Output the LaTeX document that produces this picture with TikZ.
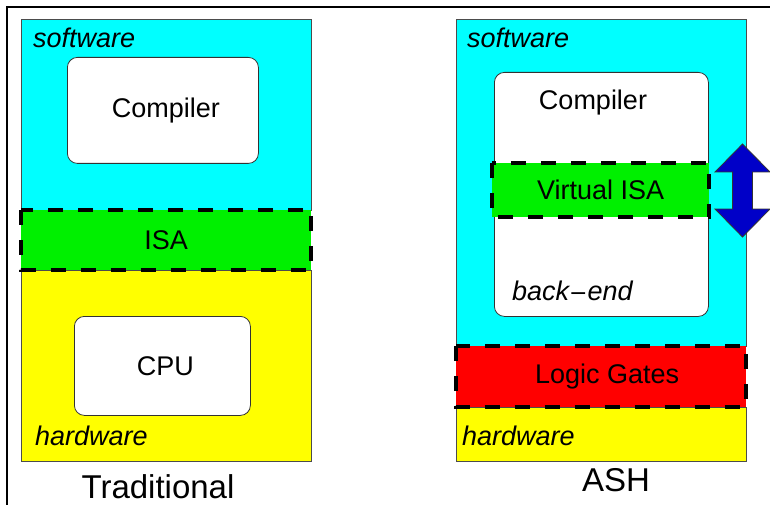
\documentclass[tikz,border=0pt]{standalone}
\usepackage{fontspec}
\setmainfont{Liberation Sans}
\definecolor{cy}{RGB}{0,255,255}
\definecolor{gr}{RGB}{0,240,0}
\definecolor{ye}{RGB}{255,255,0}
\definecolor{rd}{RGB}{255,0,0}
\definecolor{bl}{RGB}{0,0,200}
\begin{document}
\begin{tikzpicture}[x=1pt,y=-1pt,
  layer/.style={draw=black!70,line width=0.8pt,anchor=north west,inner sep=0pt,minimum width=290pt},
  band/.style={anchor=north west,inner sep=0pt,font=\fontsize{27}{27}\selectfont},
  dashborder/.style={draw=black,line width=4pt,dash pattern=on 15pt off 15pt},
  whitebox/.style={draw=black!80,fill=white,line width=0.8pt,rounded corners=10pt,anchor=north west,inner sep=0pt},
  lbl/.style={font=\fontsize{27}{27}\selectfont},
  ilbl/.style={font=\fontsize{27}{27}\selectfont\itshape,anchor=base west,inner sep=0pt},
  title/.style={font=\fontsize{33}{33}\selectfont,anchor=base,inner sep=0pt}]
\useasboundingbox (0,0) rectangle (770,505);
% frame
\draw[line width=2pt] (7,505) -- (7,7) -- (772,7);
% ---------- Traditional ----------
\node[layer,fill=cy,minimum height=191pt] (lsw) at (21,19) {};
\node[layer,fill=ye,minimum height=191pt] (lhw) at (21,270) {};
\node[band,fill=gr,minimum width=290pt,minimum height=60pt] (isa) at (21,210) {};
\draw[dashborder] (isa.north west) rectangle (isa.south east);
\node[lbl] at (isa.center) {ISA};
\node[whitebox,minimum width=191pt,minimum height=106pt] (comp1) at (67,57) {};
\node[lbl] at ([xshift=3pt]comp1.center) {Compiler};
\node[whitebox,minimum width=176pt,minimum height=99pt] (cpu) at (74,316) {};
\node[lbl] at ([xshift=3pt]cpu.center) {CPU};
\node[ilbl] (sw1) at (33,48) {software};
\node[ilbl] (hw1) at (35,445) {hardware};
\node[title] (trad) at (158,498) {Traditional};
% ---------- ASH ----------
\node[layer,fill=cy,minimum height=327pt] (rsw) at (456,19) {};
\node[layer,fill=ye,minimum height=54pt] (rhw) at (456,407) {};
\node[band,fill=rd,minimum width=290pt,minimum height=61pt] (lg) at (456,346) {};
\draw[dashborder] (lg.north west) rectangle (lg.south east);
\node[lbl] at ([xshift=6pt]lg.center) {Logic Gates};
\node[whitebox,minimum width=214pt,minimum height=244pt] (comp2) at (494,72) {};
\node[lbl,anchor=base] at (593,110) {Compiler};
\node[band,fill=gr,minimum width=217pt,minimum height=54pt] (visa) at (492,163) {};
\draw[dashborder] (visa.north west) rectangle (visa.south east);
\node[lbl] at (visa.center) {Virtual ISA};
\node[ilbl] (be) at (512,300) {back{\fontspec{DejaVu Sans}\fontsize{22}{22}\selectfont −}end};
\node[ilbl] (sw2) at (467,48) {software};
\node[ilbl] (hw2) at (462,445) {hardware};
\node[title] (ash) at (616,491) {ASH};
% double arrow
\draw[fill=bl,draw=black!80,line width=0.8pt,line join=miter]
  (742.5,144) -- (770,172) -- (752.5,172) -- (752.5,209) -- (770,209) -- (742.5,237)
  -- (715,209) -- (732.5,209) -- (732.5,172) -- (715,172) -- cycle;
\end{tikzpicture}
\end{document}
